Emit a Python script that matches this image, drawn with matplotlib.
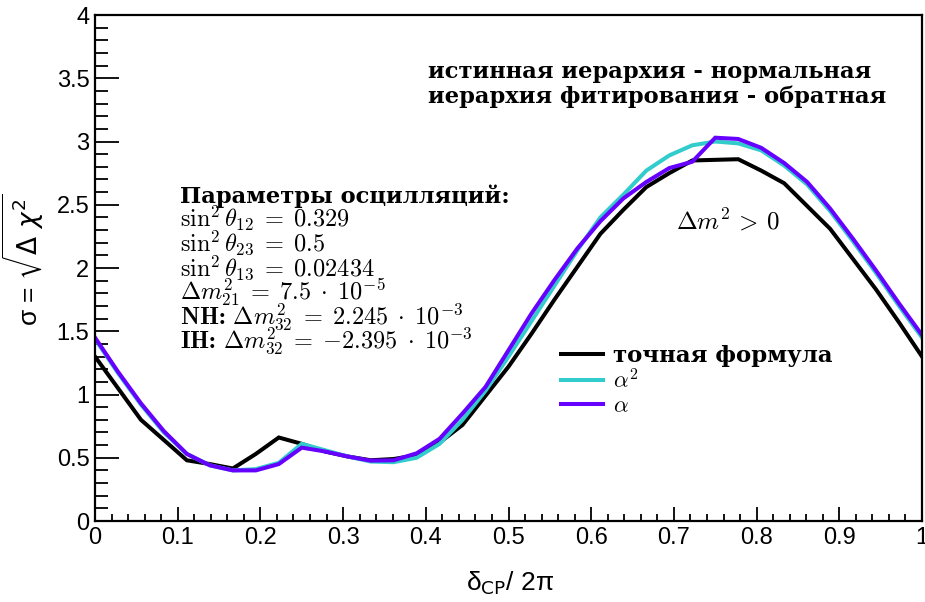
import numpy as np
import matplotlib
matplotlib.use("Agg")
import matplotlib.pyplot as plt
from matplotlib.ticker import MultipleLocator

plt.rcParams["mathtext.fontset"] = "cm"
plt.rcParams["font.family"] = ["Liberation Sans", "DejaVu Sans"]

# delta_CP / 2pi grid (шаг 1/36)
delta_cp = np.arange(37) / 36.0

# точная формула
sigma_exact = [1.30, 1.05, 0.80, 0.64, 0.48, 0.45, 0.415, 0.53, 0.66, 0.61,
               0.55, 0.51, 0.48, 0.49, 0.52, 0.62, 0.76, 0.99, 1.22, 1.48,
               1.75, 2.01, 2.27, 2.46, 2.64, 2.75, 2.85, 2.855, 2.86, 2.77,
               2.67, 2.49, 2.31, 2.07, 1.83, 1.57, 1.30]

# alpha^2
sigma_a2 = [1.44, 1.17, 0.92, 0.70, 0.53, 0.44, 0.40, 0.41, 0.46, 0.61,
            0.56, 0.51, 0.47, 0.465, 0.50, 0.61, 0.80, 1.03, 1.30, 1.58,
            1.86, 2.14, 2.40, 2.58, 2.77, 2.89, 2.97, 3.00, 2.985, 2.93,
            2.81, 2.66, 2.45, 2.21, 1.96, 1.70, 1.45]

# alpha
sigma_a1 = [1.45, 1.18, 0.93, 0.71, 0.53, 0.44, 0.40, 0.40, 0.45, 0.58,
            0.55, 0.51, 0.477, 0.48, 0.535, 0.65, 0.85, 1.06, 1.35, 1.64,
            1.905, 2.155, 2.37, 2.55, 2.68, 2.79, 2.84, 3.03, 3.02, 2.95,
            2.83, 2.68, 2.47, 2.23, 1.98, 1.72, 1.47]

labels = ["точная формула", r"$\alpha^2$", r"$\alpha$"]
colors = ["black", "#33CCCC", "#6600FF"]

fig = plt.figure(figsize=(9.25, 6.02), dpi=100)
ax = fig.add_axes([95 / 925, 81 / 602, 827 / 925, 506 / 602])

for y, lab, c in zip([sigma_exact, sigma_a2, sigma_a1], labels, colors):
    ax.plot(delta_cp, y, color=c, lw=2.9, label=lab, solid_joinstyle="miter")

ax.set_xlim(0, 1)
ax.set_ylim(0, 4)
ax.xaxis.set_major_locator(MultipleLocator(0.1))
ax.xaxis.set_minor_locator(MultipleLocator(0.02))
ax.yaxis.set_major_locator(MultipleLocator(0.5))
ax.yaxis.set_minor_locator(MultipleLocator(0.1))
ax.xaxis.set_major_formatter(plt.FuncFormatter(lambda v, p: f"{v:g}"))
ax.yaxis.set_major_formatter(plt.FuncFormatter(lambda v, p: f"{v:g}"))
ax.tick_params(axis="x", which="major", direction="in", length=10, width=1.3, labelsize=17, pad=4)
ax.tick_params(axis="x", which="minor", direction="in", length=5, width=1.3)
ax.tick_params(axis="y", which="major", direction="in", length=17, width=1.3, labelsize=17, pad=4)
ax.tick_params(axis="y", which="minor", direction="in", length=9, width=1.3)
for s in ax.spines.values():
    s.set_linewidth(1.6)

ax.set_xlabel(r"δ$_{\rm CP}$/ 2π", fontsize=19, math_fontfamily="dejavusans")
ax.xaxis.set_label_coords(0.502, -0.095)
ax.set_ylabel(r"σ = $\sqrt{\Delta\ \chi^2}$", fontsize=19, math_fontfamily="dejavusans")
ax.yaxis.set_label_coords(-0.06, 0.516)

serif = ["DejaVu Serif", "Liberation Serif"]
ax.text(0.403, 0.887, "истинная иерархия - нормальная", transform=ax.transAxes,
        family=serif, weight="bold", fontsize=16.3, va="center")
ax.text(0.403, 0.838, "иерархия фитирования - обратная", transform=ax.transAxes,
        family=serif, weight="bold", fontsize=16.3, va="center")

ax.text(0.703, 0.592, r"$\Delta m^2 \,>\, 0$", transform=ax.transAxes, fontsize=18, va="center")

params = [r"$\sin^2\theta_{12} \;=\; 0.329$",
          r"$\sin^2\theta_{23} \;=\; 0.5$",
          r"$\sin^2\theta_{13} \;=\; 0.02434$",
          r"$\Delta m^2_{21} \;=\; 7.5\;\cdot\;10^{-5}$",
          r"NH: $\Delta m^2_{32} \;=\; 2.245\;\cdot\;10^{-3}$",
          r"IH: $\Delta m^2_{32} \;=\; {-}2.395\;\cdot\;10^{-3}$"]
ax.text(0.1028, (521 - 203) / 506, "Параметры осцилляций:", transform=ax.transAxes,
        family=serif, weight="bold", fontsize=16.3, va="baseline")
for i, p in enumerate(params):
    ax.text(0.1028, (521 - 227 - 24.2 * i) / 506, p, transform=ax.transAxes,
            family=["cmb10", "DejaVu Serif"], fontsize=17.5, va="baseline")

leg = ax.legend(loc="upper left", bbox_to_anchor=(0.5635, 0.347), frameon=False,
                handlelength=1.85, handletextpad=0.44, labelspacing=0.08,
                borderpad=0, borderaxespad=0,
                prop={"family": serif, "weight": "bold", "size": 16.5})

fig.savefig("out.png", dpi=100)
